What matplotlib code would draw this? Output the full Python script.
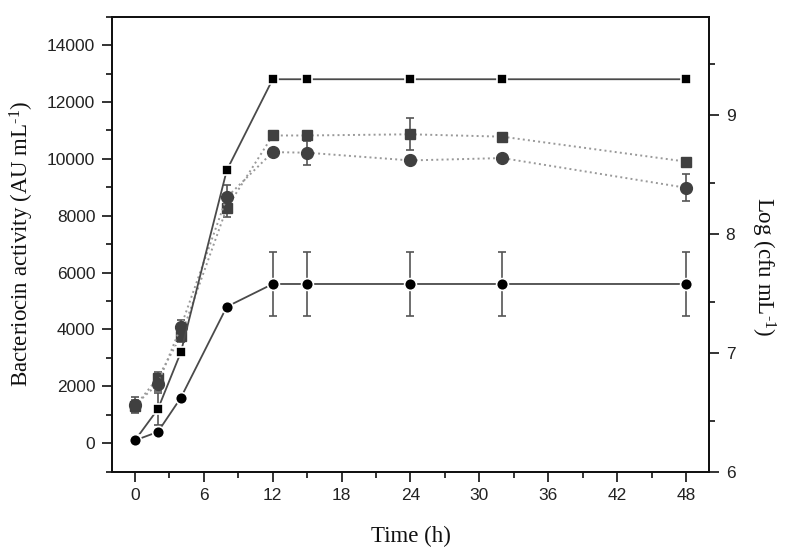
import matplotlib
matplotlib.use("Agg")
import matplotlib.pyplot as plt
from matplotlib.ticker import MultipleLocator, FixedLocator

plt.rcParams['mathtext.fontset'] = 'custom'
plt.rcParams['mathtext.rm'] = 'Liberation Serif'
plt.rcParams['mathtext.it'] = 'Liberation Serif:italic'

# ---- data ----
time_h = [0, 2, 4, 8, 12, 15, 24, 32, 48]
activity_sq = [100, 1200, 3200, 9600, 12800, 12800, 12800, 12800, 12800]
activity_sq_err = [0, 560, 0, 0, 0, 0, 0, 0, 0]
activity_ci = [100, 400, 1600, 4800, 5600, 5600, 5600, 5600, 5600]
activity_ci_err = [0, 0, 0, 0, 1120, 1120, 1120, 1120, 1120]
logcfu_sq = [6.55, 6.79, 7.14, 8.22, 8.83, 8.83, 8.84, 8.82, 8.61]
logcfu_sq_err = [0.05, 0.05, 0.05, 0.08, 0, 0, 0.135, 0, 0]
logcfu_ci = [6.56, 6.74, 7.22, 8.31, 8.69, 8.685, 8.62, 8.64, 8.39]
logcfu_ci_err = [0.07, 0.06, 0.06, 0.1, 0, 0.1, 0, 0, 0.115]

x_ticks = [0, 6, 12, 18, 24, 30, 36, 42, 48]
left_ticks = [0, 2000, 4000, 6000, 8000, 10000, 12000, 14000]
right_ticks = [6, 7, 8, 9]
right_minor = [6.43, 7.43, 8.43, 9.43]

fig = plt.figure(figsize=(7.88, 5.58), dpi=100)
ax = fig.add_axes([0.1421, 0.1547, 0.7576, 0.8154])
ax2 = ax.twinx()

tick_font = dict(family='Liberation Sans', size=12.5, color='#222222')
label_font = dict(family='Liberation Serif', size=16.5, color='#111111')

# gray series (right axis)
ax2.errorbar(time_h, logcfu_sq, yerr=logcfu_sq_err, fmt='s', ls=':', lw=1.4,
             color='#999999', mfc='#404040', mec='#404040', ms=7.5,
             ecolor='#555555', elinewidth=1.2, capsize=2.8, capthick=1.2, zorder=3)
ax2.errorbar(time_h, logcfu_ci, yerr=logcfu_ci_err, fmt='o', ls=':', lw=1.4,
             color='#999999', mfc='#404040', mec='#404040', ms=8.5,
             ecolor='#555555', elinewidth=1.2, capsize=2.8, capthick=1.2, zorder=3)

# black series (left axis)
ax.errorbar(time_h, activity_sq, yerr=activity_sq_err, fmt='s', ls='-', lw=1.3,
            color='#4a4a4a', mfc='black', mec='white', mew=1.2, ms=7.5,
            ecolor='#555555', elinewidth=1.2, capsize=2.8, capthick=1.2, zorder=3)
ax.errorbar(time_h, activity_ci, yerr=activity_ci_err, fmt='o', ls='-', lw=1.3,
            color='#4a4a4a', mfc='black', mec='white', mew=1.2, ms=8.5,
            ecolor='#555555', elinewidth=1.2, capsize=2.8, capthick=1.2, zorder=3)

ax.set_zorder(ax2.get_zorder() + 1)
ax.patch.set_visible(False)

ax.set_xlim(-2, 50)
ax.set_ylim(-1000, 15000)
ax2.set_ylim(6, 9.83)

ax.set_xticks(x_ticks)
ax.xaxis.set_minor_locator(MultipleLocator(3))
ax.set_yticks(left_ticks)
ax.yaxis.set_minor_locator(MultipleLocator(1000))
ax2.set_yticks(right_ticks)
ax2.yaxis.set_minor_locator(FixedLocator(right_minor))

for a in (ax, ax2):
    for s in a.spines.values():
        s.set_linewidth(1.3)
        s.set_color('#111111')
    a.tick_params(which='major', direction='out', length=7, width=1.2, color='#111111')
    a.tick_params(which='minor', direction='out', length=4.5, width=1.2, color='#111111')

ax.set_xticklabels([str(v) for v in x_ticks], fontdict=tick_font)
ax.set_yticklabels([str(v) for v in left_ticks], fontdict=tick_font)
ax2.set_yticklabels([str(v) for v in right_ticks], fontdict=tick_font)
ax.tick_params(axis='both', which='major', pad=5)
ax2.tick_params(axis='y', which='major', pad=5)

ax.set_xlabel('Time (h)', fontdict=label_font, labelpad=16)
ax.set_ylabel('Bacteriocin activity (AU mL$^{\\text{-1}}$)', fontdict=label_font, labelpad=8)
ax2.set_ylabel('Log (cfu mL$^{\\text{-1}}$)', fontdict=label_font, rotation=-90)
ax2.yaxis.set_label_coords(1.115, 0.45)

fig.savefig('out.png', dpi=100)
